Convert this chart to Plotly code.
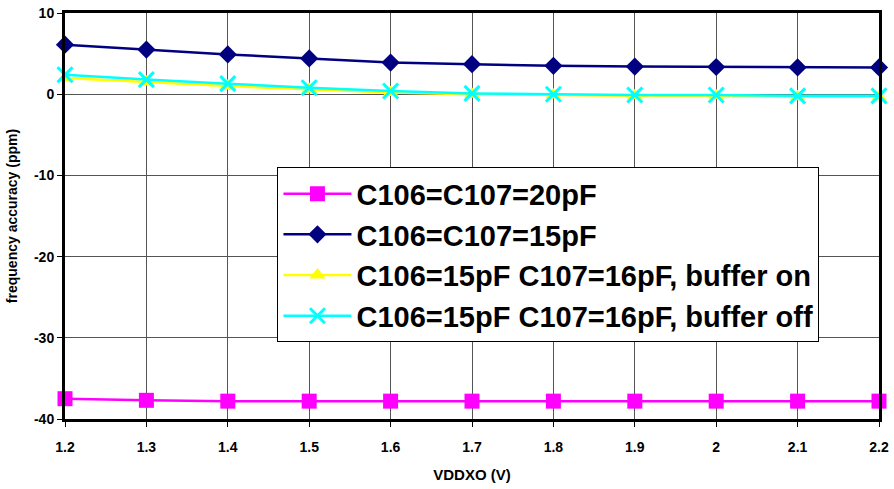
import plotly.graph_objects as go

vddxo = [1.2, 1.3, 1.4, 1.5, 1.6, 1.7, 1.8, 1.9, 2.0, 2.1, 2.2]
x_tick_labels = ["1.2", "1.3", "1.4", "1.5", "1.6", "1.7", "1.8", "1.9", "2", "2.1", "2.2"]
y_tick_vals = [10, 0, -10, -20, -30, -40]
y_tick_labels = ["10", "0", "-10", "-20", "-30", "-40"]

c20 = [-37.5, -37.7, -37.8, -37.8, -37.8, -37.8, -37.8, -37.8, -37.8, -37.8, -37.8]
c15 = [6.1, 5.5, 4.9, 4.4, 3.9, 3.7, 3.5, 3.4, 3.35, 3.3, 3.3]
c15_16_on = [2.0, 1.5, 1.0, 0.6, 0.2, 0.0, -0.1, -0.2, -0.2, -0.3, -0.3]
c15_16_off = [2.4, 1.8, 1.3, 0.8, 0.4, 0.1, 0.0, -0.1, -0.1, -0.2, -0.2]

names = ["C106=C107=20pF", "C106=C107=15pF",
         "C106=15pF C107=16pF, buffer on", "C106=15pF C107=16pF, buffer off"]
series = [c20, c15, c15_16_on, c15_16_off]
colors = ["#FF00FF", "#000080", "#FFFF00", "#00FFFF"]
symbols = ["square", "diamond", "triangle-up", "x-thin"]
sizes = [15, 14, 14, 15]

fig = go.Figure()
for i, (n, s, c, sym, sz) in enumerate(zip(names, series, colors, symbols, sizes)):
    marker = dict(symbol=sym, size=sz, color=c)
    if sym == "x-thin":
        marker["line"] = dict(color=c, width=3)
    fig.add_trace(go.Scatter(
        x=vddxo, y=s, name=n, mode="lines+markers",
        line=dict(color=c, width=2.5), marker=marker,
        cliponaxis=False, legendgroup=f"g{i}",
    ))

fig.update_layout(
    width=894, height=489,
    margin=dict(l=65, r=15, t=13, b=70),
    plot_bgcolor="white", paper_bgcolor="white",
    font=dict(family="Arial, Liberation Sans, sans-serif", color="black"),
    showlegend=True,
    legend=dict(
        x=0.261, y=0.62, xanchor="left", yanchor="top",
        bgcolor="white", bordercolor="black", borderwidth=1,
        font=dict(size=29, family="Arial, Liberation Sans, sans-serif", weight="bold"),
        traceorder="grouped", tracegroupgap=0, itemwidth=68,
    ),
    xaxis=dict(
        range=[1.2, 2.2], tickvals=vddxo, ticktext=x_tick_labels,
        showline=True, linecolor="black", linewidth=3, mirror=True,
        showgrid=True, gridcolor="#555555", gridwidth=1,
        ticks="outside", ticklen=5, tickcolor="black", zeroline=False,
        ticklabelstandoff=8, automargin=False,
        tickfont=dict(size=14, weight="bold"),
        title=dict(text="VDDXO (V)", font=dict(size=15, weight="bold"), standoff=16),
    ),
    yaxis=dict(
        range=[-40, 10], tickvals=y_tick_vals, ticktext=y_tick_labels,
        showline=True, linecolor="black", linewidth=3, mirror=True,
        showgrid=True, gridcolor="#555555", gridwidth=1,
        ticks="outside", ticklen=5, tickcolor="black", zeroline=False,
        automargin=False,
        tickfont=dict(size=14, weight="bold"),
        title=dict(text="frequency accuracy (ppm)", font=dict(size=14, weight="bold"), standoff=14),
    ),
)

fig.write_html("out.html")
